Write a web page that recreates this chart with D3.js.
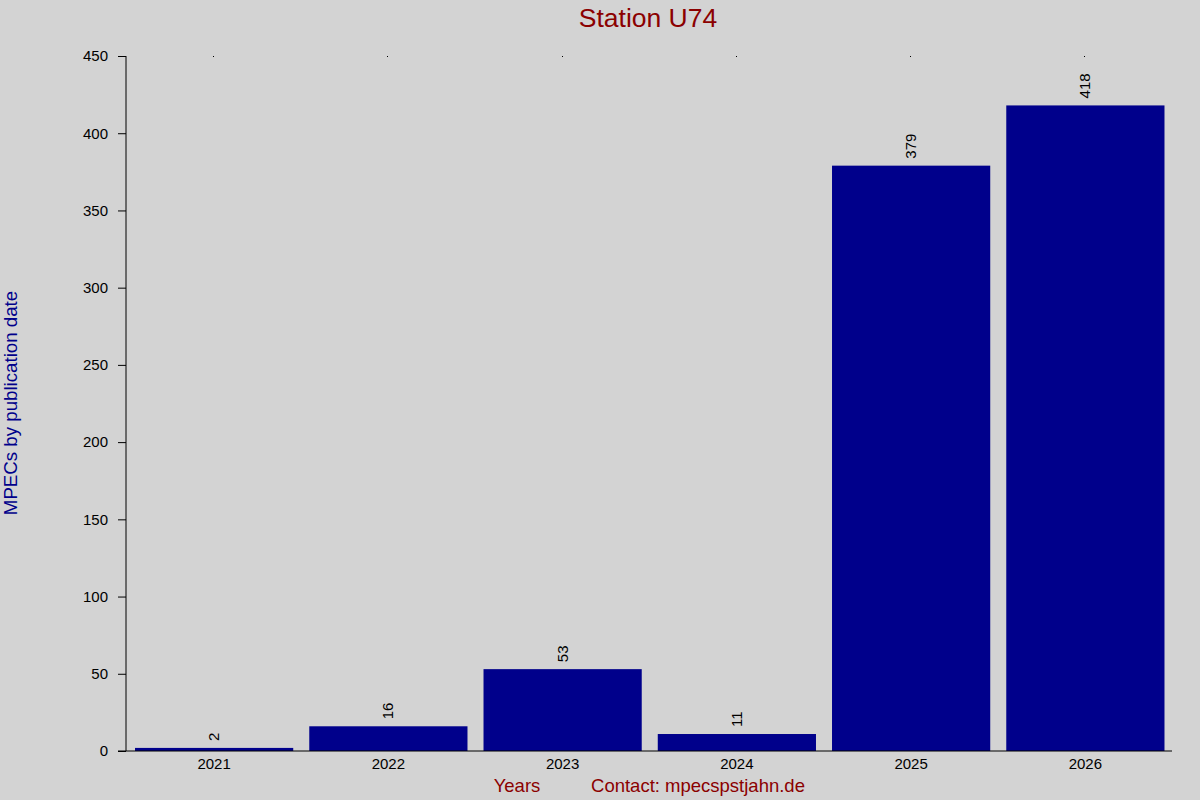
<!DOCTYPE html>
<html><head><meta charset="utf-8">
<script src="https://cdn.jsdelivr.net/npm/d3@7"></script>
<style>body{margin:0;background:#d3d3d3;}svg{display:block;font-family:"Liberation Sans",Arial,sans-serif;}</style>
</head><body>
<script>
const years = ["2021","2022","2023","2024","2025","2026"];
const counts = [2,16,53,11,379,418];
const yTicks = [0,50,100,150,200,250,300,350,400,450];

const W=1200,H=800;
const svg=d3.select("body").append("svg").attr("width",W).attr("height",H);
svg.append("rect").attr("width",W).attr("height",H).attr("fill","#d3d3d3");

const x=d3.scaleBand().domain(years).range([127,1172.5]).paddingInner(0.092).paddingOuter(0.046);
const y=d3.scaleLinear().domain([0,450]).range([751,56]);

svg.selectAll("rect.bar").data(counts).join("rect").attr("class","bar")
  .attr("x",(d,i)=>x(years[i])).attr("width",x.bandwidth())
  .attr("y",d=>y(d)).attr("height",d=>y(0)-y(d)).attr("fill","#00008b");

// axes
const ya=svg.append("g").attr("transform","translate(126,0)")
  .call(d3.axisLeft(y).tickValues(yTicks).tickSize(8).tickPadding(10));
ya.attr("font-size",15).attr("font-family","Liberation Sans, Arial, sans-serif");
ya.selectAll("text").style("font-size","15px").attr("fill","#000");
ya.select(".domain").attr("d","M0,56V751").attr("stroke","#000");

const xa=svg.append("g").attr("transform","translate(0,751)")
  .call(d3.axisBottom(x).tickSize(0).tickPadding(7));
xa.attr("font-size",15).attr("font-family","Liberation Sans, Arial, sans-serif");
xa.selectAll("text").style("font-size","15px").attr("fill","#000");
xa.select(".domain").attr("d","M118,0H1172").attr("stroke","#000");

// top tick dots
svg.selectAll("rect.dot").data(years).join("rect").attr("class","dot")
  .attr("x",d=>Math.round(x(d)+x.bandwidth()/2)-1).attr("y",56).attr("width",1).attr("height",1).attr("fill","#000");

// value labels
svg.selectAll("text.val").data(counts).join("text").attr("class","val")
  .attr("transform",(d,i)=>`translate(${x(years[i])+x.bandwidth()/2+5},${y(d)-7}) rotate(-90)`)
  .style("font-size","15px").attr("fill","#000").text(d=>d);

svg.append("text").attr("x",648).attr("y",27).attr("text-anchor","middle")
  .style("font-size","26.5px").attr("fill","#8b0000").text("Station U74");
svg.append("text").attr("transform","translate(17,403) rotate(-90)").attr("text-anchor","middle")
  .style("font-size","18.7px").attr("fill","#00008b").text("MPECs by publication date");
svg.append("text").attr("x",517).attr("y",792).attr("text-anchor","middle")
  .style("font-size","18.5px").attr("fill","#8b0000").text("Years");
svg.append("text").attr("x",698).attr("y",792).attr("text-anchor","middle")
  .style("font-size","18.5px").attr("fill","#8b0000").text("Contact: mpecspstjahn.de");
</script>
</body></html>
